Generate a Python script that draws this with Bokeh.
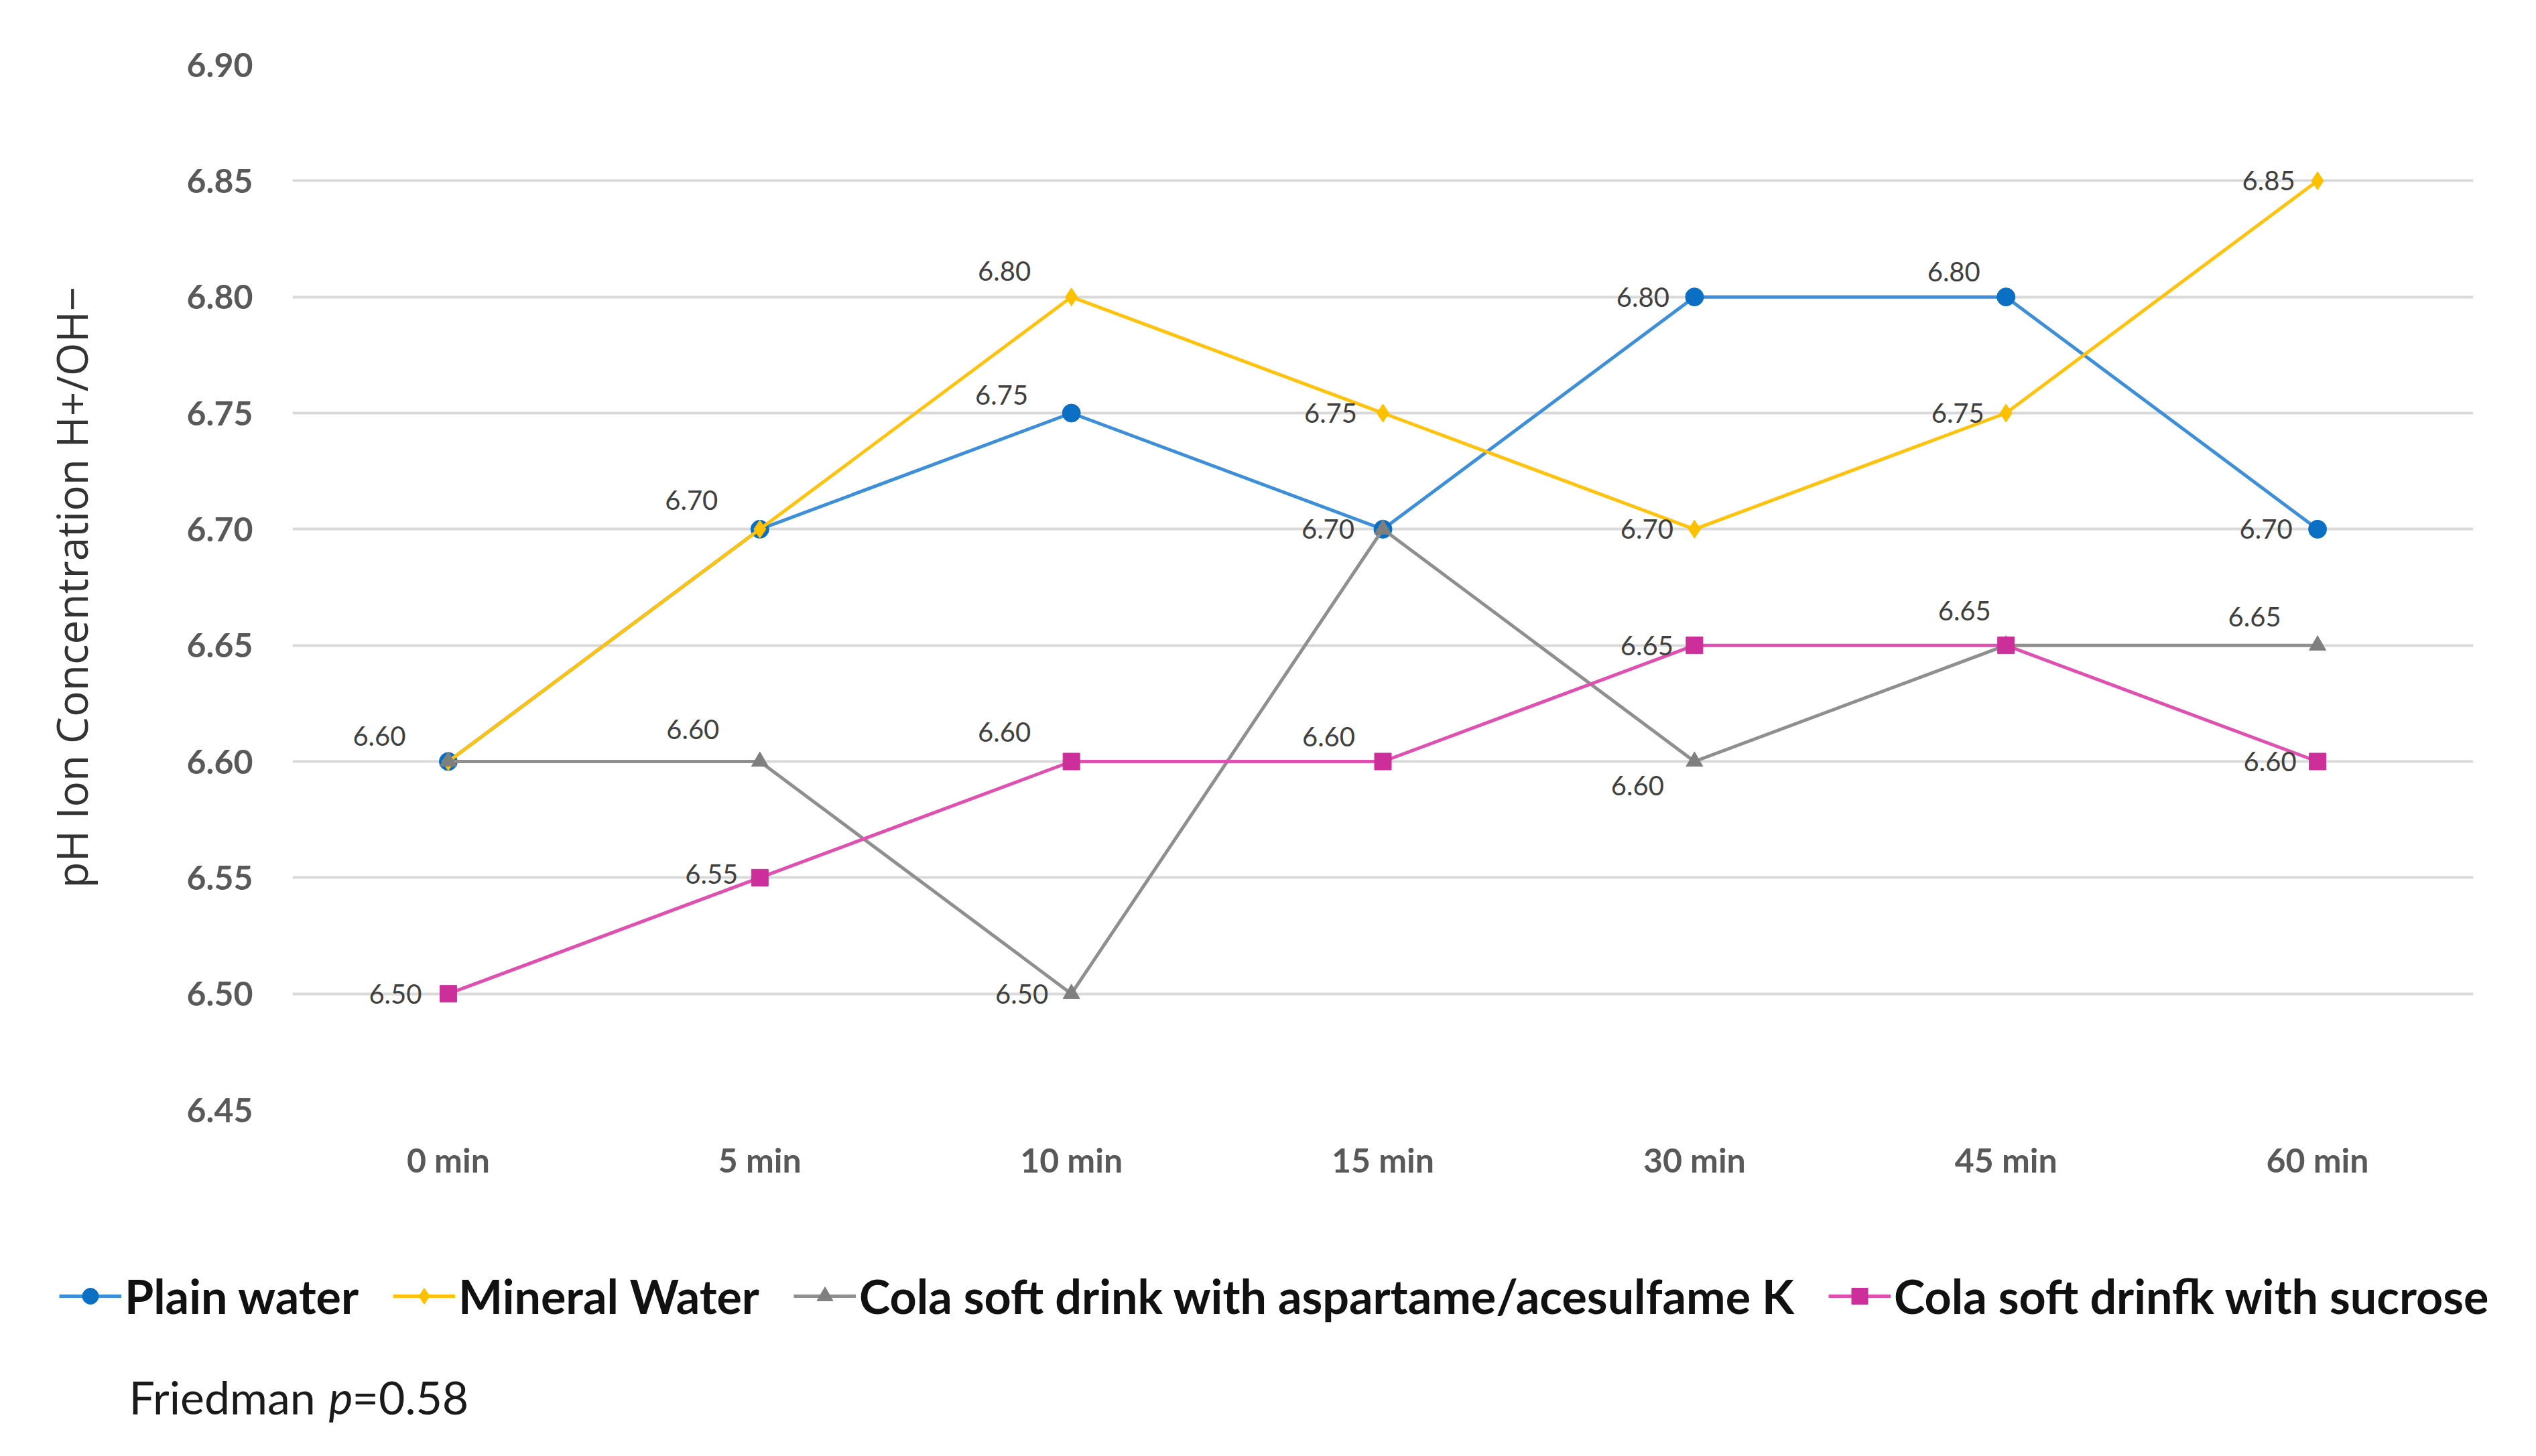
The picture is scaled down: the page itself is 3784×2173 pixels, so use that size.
from bokeh.plotting import figure
from bokeh.layouts import column
from bokeh.models import (Range1d, FactorRange, FixedTicker, PrintfTickFormatter,
                          Legend, LegendItem, Label, ColumnDataSource)
from bokeh.embed import file_html
from bokeh.resources import INLINE
from bokeh.core.properties import value

# ---------------- data ----------------
times = ["0 min", "5 min", "10 min", "15 min", "30 min", "45 min", "60 min"]
plain_water = [6.60, 6.70, 6.75, 6.70, 6.80, 6.80, 6.70]
mineral_water = [6.60, 6.70, 6.80, 6.75, 6.70, 6.75, 6.85]
cola_aspartame = [6.60, 6.60, 6.50, 6.70, 6.60, 6.65, 6.65]
cola_sucrose = [6.50, 6.55, 6.60, 6.60, 6.65, 6.65, 6.60]
series_names = ["Plain water", "Mineral Water",
                "Cola soft drink with aspartame/acesulfame K",
                "Cola soft drinfk with sucrose"]
y_ticks = [6.45, 6.50, 6.55, 6.60, 6.65, 6.70, 6.75, 6.80, 6.85, 6.90]
y_label = "pH Ion Concentration H+/OH\u2212"
note_parts = ["Friedman ", "p", "=0.58"]

# ---------------- styling ----------------
line_colors = ["#3D8FD9", "#FFC20E", "#8F8F8F", "#E050B0"]
marker_colors = ["#0B6FC4", "#FFC000", "#7F7F7F", "#CC2E9A"]
markers = ["circle", "diamond", "triangle", "square"]
marker_sizes = [27, 27, 25, 25]
# data label screen offsets (px) per point; None = no label shown
label_offsets = [
    [(-103, -38), (-102, -43), (-104, -27), (-82, 0), (-77, 0), (-78, -38), (-77, 0)],
    [None, None, (-100, -39), (-78, 0), (-71, 0), (-72, 0), (-73, 0)],
    [None, (-100, -48), (-74, 0), None, (-85, 36), None, (-94, -43)],
    [(-79, 0), (-72, -5), (-100, -44), (-81, -37), (-71, 0), (-62, -52), (-71, 0)],
]

W = 3768
H1 = 1800
H2 = 357

p = figure(x_range=FactorRange(factors=times), y_range=Range1d(6.45, 6.90),
           width=W, height=H1, output_backend="svg", toolbar_location=None,
           title=None, min_border_left=436, min_border_right=78,
           min_border_top=96, min_border_bottom=H1 - 96 - 1560)
p.outline_line_color = None
p.background_fill_color = "white"
p.border_fill_color = "white"

p.xgrid.grid_line_color = None
p.ygrid.grid_line_color = "#D9D9D9"
p.ygrid.grid_line_width = 4
p.yaxis.ticker = FixedTicker(ticks=y_ticks)
p.yaxis.formatter = PrintfTickFormatter(format="%.2f")

for ax in (p.xaxis[0], p.yaxis[0]):
    ax.axis_line_color = None
    ax.major_tick_line_color = None
    ax.minor_tick_line_color = None
    ax.major_label_text_font = "Lato"
    ax.major_label_text_font_style = "bold"
    ax.major_label_text_font_size = "50px"
    ax.major_label_text_color = "#595959"

p.yaxis.major_label_standoff = 53
p.xaxis.major_label_standoff = 38
p.yaxis.axis_label = y_label
p.yaxis.axis_label_text_font = "Open Sans"
p.yaxis.axis_label_text_font_style = "normal"
p.yaxis.axis_label_text_font_size = "64px"
p.yaxis.axis_label_text_color = "#333333"
p.yaxis.axis_label_standoff = 126

all_series = [plain_water, mineral_water, cola_aspartame, cola_sucrose]
for i, vals in enumerate(all_series):
    src = ColumnDataSource(dict(x=times, y=vals))
    p.line("x", "y", source=src, line_color=line_colors[i], line_width=5,
           line_join="round")
    p.scatter("x", "y", source=src, marker=markers[i], size=marker_sizes[i],
              fill_color=marker_colors[i], line_color=marker_colors[i])

for i, vals in enumerate(all_series):
    lx, ly, lt, dx, dy = [], [], [], [], []
    for t, v, off in zip(times, vals, label_offsets[i]):
        if off is None:
            continue
        lx.append(t); ly.append(v); lt.append("%.2f" % v)
        dx.append(off[0]); dy.append(off[1])
    lsrc = ColumnDataSource(dict(x=lx, y=ly, t=lt, dx=dx, dy=dy))
    p.text("x", "y", text="t", source=lsrc, x_offset="dx", y_offset="dy",
           text_font=value("Lato"), text_font_size="40px", text_color="#404040",
           text_align="center", text_baseline="middle")

# ---------------- legend + note panel ----------------
p2 = figure(x_range=Range1d(0, W), y_range=Range1d(0, H2), width=W, height=H2,
            output_backend="svg", toolbar_location=None, title=None,
            min_border=0)
try:
    p2.frame_align = False
    p.frame_align = False
except Exception:
    pass
p2.axis.visible = False
p2.grid.visible = False
p2.outline_line_color = None
p2.background_fill_color = "white"
p2.border_fill_color = "white"

items = []
for i, name in enumerate(series_names):
    dsrc = ColumnDataSource(dict(x=[-5000], y=[-5000]))
    lr = p2.line("x", "y", source=dsrc, line_color=line_colors[i], line_width=5)
    sr = p2.scatter("x", "y", source=dsrc, marker=markers[i], size=marker_sizes[i],
                    fill_color=marker_colors[i], line_color=marker_colors[i])
    items.append(LegendItem(label=name, renderers=[lr, sr]))

legend = Legend(items=items, location=(88, 181), orientation="horizontal",
                label_text_font="Lato", label_text_font_style="bold",
                label_text_font_size="70px", label_text_color="#111111",
                glyph_width=93, glyph_height=60, label_standoff=5, spacing=51,
                padding=0, margin=0, border_line_color=None,
                background_fill_alpha=0)
p2.add_layout(legend, "center")

xs = [192, 490, 525]
styles = ["normal", "italic", "normal"]
for txt, x, st in zip(note_parts, xs, styles):
    p2.add_layout(Label(x=x, y=73, text=txt,
                        text_font="Lato", text_font_style=st, text_font_size="68px",
                        text_color="#1A1A1A", text_baseline="alphabetic"))

layout = column(p, p2, spacing=0)
open("out.html", "w").write(file_html(layout, INLINE))
